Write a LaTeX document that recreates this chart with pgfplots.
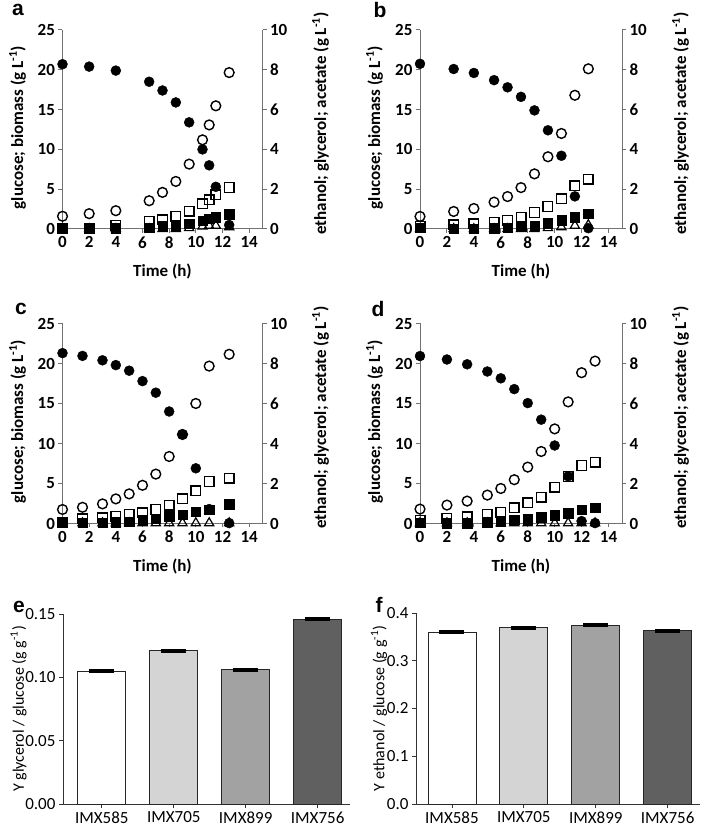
\documentclass[border=0pt]{standalone}
\usepackage{pgfplots}
\usepackage{pgfplotstable}
\pgfplotsset{compat=1.18}
\usepackage{fontspec}
\setmainfont{Carlito}
\newfontfamily\arialfont{Liberation Sans}

\definecolor{axgray}{HTML}{707070}
\definecolor{barA}{HTML}{FFFFFF}
\definecolor{barB}{HTML}{D4D4D4}
\definecolor{barC}{HTML}{A2A2A2}
\definecolor{barD}{HTML}{606060}

\newcommand\tlfont{\fontsize{17}{19}\selectfont\bfseries}
\newcommand\lbfont{\fontsize{17}{19}\selectfont\bfseries}
\newcommand\barfont{\fontsize{17}{19}\selectfont}
\newcommand\panel[1]{{\arialfont\fontsize{21}{22}\selectfont\bfseries #1}}

% time course tables: t, glucose, biomass, ethanol, glycerol, acetate
\pgfplotstableread{
t    glc   bio   eth   gly   ace
0    20.7  0.1   0.64  0.02  0
2    20.4  0.1   0.77  0.03  0
4    19.9  0.1   0.92  0.18  0
6.5  18.5  0.2   1.42  0.38  0
7.5  17.4  0.33  1.84  0.47  0
8.5  15.9  0.5   2.39  0.64  0
9.5  13.4  0.7   3.26  0.89  0.05
10.5 10.0  1.05  4.48  1.27  0.13
11   8.0   1.3   5.23  1.47  0.17
11.5 5.3   1.46  6.19  1.72  0.17
12.5 0.5   1.88  7.86  2.09  0.1
}\dataA
\pgfplotstableread{
t    glc   bio   eth   gly   ace
0    20.75 0.15  0.63  0.13  0
2.5  20.1  0.05  0.88  0.22  0
4    19.6  0.05  1.03  0.27  0
5.5  18.7  0.1   1.35  0.35  0
6.5  17.8  0.2   1.63  0.43  0
7.5  16.6  0.35  2.08  0.6   0
8.5  14.9  0.45  2.77  0.83  0
9.5  12.4  0.75  3.63  1.13  0.05
10.5 9.2   1.1   4.8   1.52  0.1
11.5 4.1   1.5   6.72  2.18  0.17
12.5 0.1   1.9   8.05  2.5   0.2
}\dataB
\pgfplotstableread{
t    glc   bio   eth   gly   ace
0    21.3  0.1   0.7   0.05  0.02
1.5  20.95 0.1   0.81  0.23  0.02
3    20.4  0.1   0.98  0.28  0.02
4    19.8  0.15  1.23  0.36  0.02
5    19.1  0.25  1.48  0.45  0.02
6    17.8  0.4   1.91  0.53  0.02
7    16.35 0.6   2.47  0.7   0.02
8    14.0  0.9   3.35  0.91  0.02
9    11.15 1.1   4.45  1.23  0.02
10   6.9   1.5   6.0   1.64  0.02
11   1.8   1.75  7.87  2.1   0.02
12.5 0.05  2.4   8.46  2.27  0.02
}\dataC
\pgfplotstableread{
t    glc   bio   eth   gly   ace
0    20.93 0.1   0.72  0.16  0.02
2    20.5  0.05  0.92  0.25  0.02
3.5  19.9  0.05  1.12  0.33  0.02
5    19.0  0.15  1.42  0.45  0.02
6    18.15 0.3   1.75  0.55  0.02
7    16.8  0.45  2.19  0.78  0.02
8    15.05 0.55  2.82  1.03  0.02
9    12.98 0.8   3.6   1.32  0.02
10   9.75  1.05  4.73  1.82  0.02
11   5.9   1.3   6.08  2.35  0.02
12   0.3   1.75  7.54  2.9   0.02
13   0.05  1.95  8.12  3.07  0.02
}\dataD

\pgfplotsset{
  tc/.style={scale only axis, xmin=0, xmax=15, clip=false,
    tick align=outside, major tick length=4pt,
    axis line style={draw=axgray, line width=1pt},
    every tick/.style={draw=axgray, line width=1pt},
    tick label style={font=\tlfont}, label style={font=\lbfont},
    /pgf/number format/assume math mode=true},
  tcleft/.style={tc, axis x line*=bottom, axis y line*=left,
    ymin=0, ymax=25, xtick={0,2,...,14}, ytick={0,5,...,25},
    xlabel={Time (h)}, ylabel={glucose; biomass (g L\textsuperscript{-1})},
    xlabel style={at={(axis description cs:0.5,-0.215)}, anchor=center},
    ylabel style={at={(axis description cs:-0.225,0.51)}, anchor=center}},
  tcright/.style={tc, axis x line=none, axis y line*=right,
    ymin=0, ymax=10, ytick={0,2,...,10},
    ylabel={ethanol; glycerol; acetate (g L\textsuperscript{-1})},
    ylabel style={at={(axis description cs:1.29,0.53)}, anchor=center}},
  glc/.style={only marks, mark=*, mark size=5pt, black},
  bio/.style={only marks, mark=square*, mark size=4.7pt, black},
  eth/.style={only marks, mark=o, mark size=4.9pt, black, mark options={line width=1.4pt}},
  gly/.style={only marks, mark=square, mark size=4.8pt, black, mark options={line width=1.4pt}},
  ace/.style={only marks, mark=triangle, mark size=5.3pt, black, mark options={line width=1.2pt}},
  yb/.style={scale only axis, ymin=0, axis x line*=bottom, axis y line*=left,
    tick align=outside, major tick length=4pt,
    axis line style={draw=black!80, line width=0.8pt},
    every tick/.style={draw=black!80, line width=0.8pt},
    xtick={0,1,2,3}, xticklabels={IMX585,IMX705,IMX899,IMX756},
    tick label style={font=\barfont}, label style={font=\fontsize{16}{18}\selectfont},
    /pgf/number format/assume math mode=true,
    ybar, bar width=48pt, bar shift=0pt,
    error bars/y dir=both, error bars/y explicit,
    error bars/error mark options={rotate=90, mark size=12.5pt, line width=2.6pt},
    error bars/error bar style={line width=1pt}},
  bs/.style={draw=black!85, line width=0.8pt, fill=#1},
}

\newcommand\tcpanel[4]{%
  \begin{axis}[tcleft, at={#2}, anchor=south west, width=#3, height=#4]
    \addplot[bio] table[x=t, y=bio] {#1};
    \addplot[glc] table[x=t, y=glc] {#1};
  \end{axis}
  \begin{axis}[tcright, at={#2}, anchor=south west, width=#3, height=#4]
    \addplot[ace] table[x=t, y=ace] {#1};
    \addplot[gly] table[x=t, y=gly] {#1};
    \addplot[eth] table[x=t, y=eth] {#1};
  \end{axis}}

\begin{document}
\begin{tikzpicture}
\tcpanel{\dataA}{(62.5pt,598pt)}{200pt}{199pt}
\tcpanel{\dataB}{(420pt,598pt)}{202pt}{199pt}
\tcpanel{\dataC}{(62.5pt,303.5pt)}{200pt}{200pt}
\tcpanel{\dataD}{(420pt,303.5pt)}{202pt}{200pt}

\begin{axis}[yb, at={(63pt,23pt)}, anchor=south west, width=287pt, height=190pt,
  xmin=-0.54, xmax=3.45, ymax=0.15, ytick={0,0.05,0.1,0.15},
  yticklabel style={/pgf/number format/.cd, fixed, fixed zerofill, precision=2},
  ylabel={Y glycerol / glucose (g g\textsuperscript{-1})},
  ylabel style={at={(axis description cs:-0.155,0.5)}, anchor=center}]
  \addplot[bs=barA] coordinates {(0,0.105) +- (0,0.0004)};
  \addplot[bs=barB] coordinates {(1,0.121) +- (0,0.0007)};
  \addplot[bs=barC] coordinates {(2,0.106) +- (0,0.0005)};
  \addplot[bs=barD] coordinates {(3,0.146) +- (0,0.0003)};
\end{axis}

\begin{axis}[yb, at={(416pt,23pt)}, anchor=south west, width=284pt, height=191pt,
  xmin=-0.5, xmax=3.45, ymax=0.4, ytick={0,0.1,...,0.4},
  yticklabel style={/pgf/number format/.cd, fixed, fixed zerofill, precision=1},
  ylabel={Y ethanol / glucose (g g\textsuperscript{-1})},
  ylabel style={at={(axis description cs:-0.13,0.5)}, anchor=center}]
  \addplot[bs=barA] coordinates {(0,0.360) +- (0,0.0015)};
  \addplot[bs=barB] coordinates {(1,0.369) +- (0,0.0015)};
  \addplot[bs=barC] coordinates {(2,0.375) +- (0,0.001)};
  \addplot[bs=barD] coordinates {(3,0.363) +- (0,0.0015)};
\end{axis}

\node at (18pt,817pt) {\panel{a}};
\node at (380pt,817pt) {\panel{b}};
\node at (21pt,518pt) {\panel{c}};
\node at (378pt,518pt) {\panel{d}};
\node at (19pt,220pt) {\panel{e}};
\node at (379pt,222pt) {\panel{f}};

\pgfresetboundingbox
\path[use as bounding box] (0,0) rectangle (709pt,827pt);
\end{tikzpicture}
\end{document}
